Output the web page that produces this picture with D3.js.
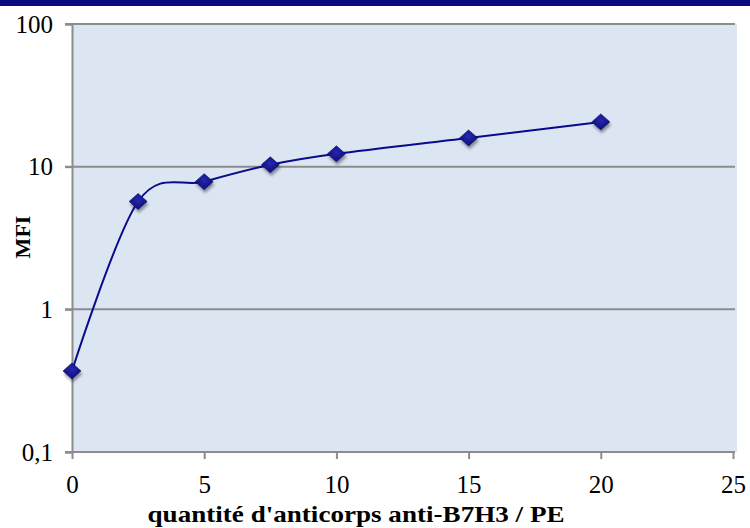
<!DOCTYPE html>
<html>
<head>
<meta charset="utf-8">
<script src="https://cdn.jsdelivr.net/npm/d3@7"></script>
<style>
  html, body { margin: 0; padding: 0; background: #ffffff; }
  svg { display: block; }
</style>
</head>
<body>
<svg id="chart" width="750" height="528"></svg>
<script>
// Antibody quantity per PE vs. mean fluorescence intensity
const quantities = [0, 2.5, 5, 7.5, 10, 15, 20];
const mfiValues  = [0.37, 5.7, 7.85, 10.3, 12.3, 15.9, 20.6];
const xTicks = [0, 5, 10, 15, 20, 25];
const yTicks = [0.1, 1, 10, 100];
const yTickLabels = ["0,1", "1", "10", "100"];
const xTitle = "quantité d'anticorps anti-B7H3 / PE";
const yTitle = "MFI";

const FONT = "'Liberation Serif', 'Times New Roman', serif";
const svg = d3.select("#chart");
const W = 750;
const left = 72;

// Top banner stripe
svg.append("rect").attr("x", 0).attr("y", 0).attr("width", W).attr("height", 6)
  .attr("fill", "#0b0b7d");

const x = d3.scaleLinear().domain([0, 25]).range([left, 733]);
const y = d3.scaleLog().domain([0.1, 100]).range([452, 24]);

// Plot area background
svg.append("rect")
  .attr("x", left).attr("y", y(100))
  .attr("width", 737 - left).attr("height", y(0.1) - y(100))
  .attr("fill", "#dce6f2");

// Horizontal gridlines
svg.append("g").selectAll("line").data(yTicks).join("line")
  .attr("x1", 65).attr("x2", 735)
  .attr("y1", d => y(d)).attr("y2", d => y(d))
  .attr("stroke", "#8c8c8c").attr("stroke-width", 2);

// Y axis
const yAxis = d3.axisLeft(y).tickValues(yTicks)
  .tickFormat((d, i) => yTickLabels[i]).tickSize(7).tickPadding(12);
const gy = svg.append("g").attr("transform", `translate(${left},0)`).call(yAxis);
gy.select(".domain").attr("stroke", "#8c8c8c").attr("stroke-width", 2);
gy.selectAll(".tick line").attr("stroke", "#8c8c8c").attr("stroke-width", 2);
gy.selectAll(".tick text")
  .style("font-family", FONT).style("font-size", "25px").style("fill", "#000");

// X axis
const xAxis = d3.axisBottom(x).tickValues(xTicks).tickSize(7).tickPadding(16)
  .tickFormat(d3.format("d"));
const gx = svg.append("g").attr("transform", `translate(0,${y(0.1)})`).call(xAxis);
gx.select(".domain").remove();
gx.append("line").attr("x1", left).attr("x2", 735).attr("y1", 0).attr("y2", 0)
  .attr("stroke", "#8c8c8c").attr("stroke-width", 2);
gx.selectAll(".tick line").attr("stroke", "#8c8c8c").attr("stroke-width", 2);
gx.selectAll(".tick text")
  .style("font-family", FONT).style("font-size", "25px").style("fill", "#000");

// Axis titles
svg.append("text").attr("x", 356).attr("y", 522)
  .attr("text-anchor", "middle")
  .attr("textLength", 417).attr("lengthAdjust", "spacingAndGlyphs")
  .style("font-family", FONT).style("font-size", "23px").style("font-weight", "bold")
  .text(xTitle);
svg.append("text")
  .attr("transform", "translate(30,237) rotate(-90)")
  .attr("text-anchor", "middle")
  .style("font-family", FONT).style("font-size", "22px").style("font-weight", "bold")
  .text(yTitle);

// Defs: marker gradient and soft shadow
const defs = svg.append("defs");
const grad = defs.append("radialGradient").attr("id", "mk")
  .attr("cx", "50%").attr("cy", "40%").attr("r", "60%");
grad.append("stop").attr("offset", "0%").attr("stop-color", "#2828b0");
grad.append("stop").attr("offset", "100%").attr("stop-color", "#0c0c78");
const shadow = defs.append("filter").attr("id", "sh")
  .attr("x", "-50%").attr("y", "-50%").attr("width", "200%").attr("height", "200%");
shadow.append("feGaussianBlur").attr("in", "SourceAlpha").attr("stdDeviation", 1.8);
shadow.append("feOffset").attr("dx", 1).attr("dy", 3).attr("result", "b");
shadow.append("feComponentTransfer").append("feFuncA").attr("type", "linear").attr("slope", 0.4);
const mg = shadow.append("feMerge");
mg.append("feMergeNode");
mg.append("feMergeNode").attr("in", "SourceGraphic");

const data = quantities.map((q, i) => ({ q, v: mfiValues[i] }));

// Smoothed connecting line
const line = d3.line().x(d => x(d.q)).y(d => y(d.v))
  .curve(d3.curveCardinal.tension(0));
svg.append("path").datum(data).attr("d", line)
  .attr("fill", "none").attr("stroke", "#0a0a8c").attr("stroke-width", 2);

// Diamond markers
const dw = 9, dh = 8;
svg.append("g").selectAll("path").data(data).join("path")
  .attr("transform", d => `translate(${x(d.q)},${y(d.v)})`)
  .attr("d", `M0,${-dh}L${dw},0L0,${dh}L${-dw},0Z`)
  .attr("fill", "url(#mk)").attr("stroke", "#0a0a66").attr("stroke-width", 0.6)
  .attr("filter", "url(#sh)");
</script>
</body>
</html>
